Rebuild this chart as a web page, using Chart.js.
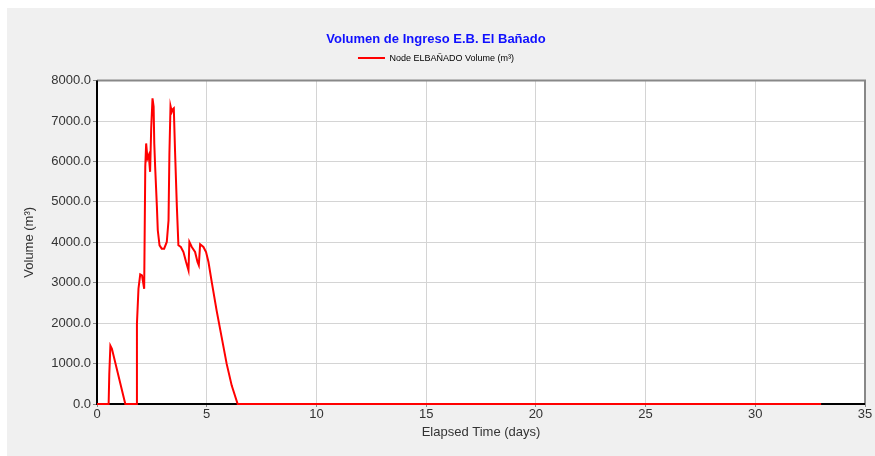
<!DOCTYPE html>
<html>
<head>
<meta charset="utf-8">
<script src="https://cdn.jsdelivr.net/npm/chart.js@4.4.0/dist/chart.umd.min.js"></script>
<style>
  body { margin: 0; background: #fff; }
  #wrap { width: 875px; height: 456px; }
</style>
</head>
<body>
<div id="wrap"><canvas id="myChart-volumen" width="875" height="456"></canvas></div>
<script>
// tiempo transcurrido (dias) y volumen (m3)
const dias = [0, 0.53, 0.56, 0.61, 0.68, 1.29, 1.79, 1.82, 1.89, 1.97, 2.05, 2.15, 2.2, 2.24, 2.3, 2.36, 2.42, 2.47, 2.53, 2.58, 2.61, 2.65, 2.73, 2.77, 2.85, 2.95, 3.06, 3.18, 3.26, 3.3, 3.35, 3.41, 3.45, 3.5, 3.56, 3.64, 3.71, 3.82, 3.94, 4.06, 4.17, 4.21, 4.32, 4.47, 4.58, 4.64, 4.7, 4.85, 4.97, 5.08, 5.23, 5.45, 5.68, 5.91, 6.14, 6.41, 33];
const volumen = [0, 0, 744, 1440, 1364, 0, 0, 1983, 2851, 3207, 3182, 2851, 5868, 6446, 6074, 6157, 5744, 6818, 7562, 7355, 6446, 5868, 4876, 4298, 3926, 3843, 3843, 4008, 4545, 6198, 7372, 7231, 7289, 7314, 6198, 4876, 3926, 3884, 3760, 3512, 3306, 4008, 3884, 3760, 3512, 3430, 3950, 3884, 3760, 3512, 3017, 2314, 1653, 992, 455, 0, 0];
const ticksX = [0, 5, 10, 15, 20, 25, 30, 35];
const ticksY = [0, 1000, 2000, 3000, 4000, 5000, 6000, 7000, 8000];

// fondo gris, area blanca y marco del grafico
const fondo = {
    id: 'fondo',
    afterInit(chart) {
        // mas espacio entre la leyenda y el grafico
        const fit = chart.legend.fit;
        chart.legend.fit = function () {
            fit.call(this);
            this.height += 8;
        };
    },
    beforeDraw(chart) {
        const c = chart.ctx;
        const a = chart.chartArea;
        c.save();
        c.fillStyle = '#f0f0f0';
        c.fillRect(7, 8, chart.width - 7, chart.height - 8);
        c.fillStyle = '#ffffff';
        c.fillRect(a.left, a.top, a.right - a.left, a.bottom - a.top);
        c.restore();
    },
    beforeDatasetsDraw(chart) {
        const c = chart.ctx;
        const a = chart.chartArea;
        c.save();
        c.strokeStyle = '#888888';
        c.lineWidth = 2;
        c.beginPath();
        c.moveTo(a.left, a.top);
        c.lineTo(a.right, a.top);
        c.lineTo(a.right, a.bottom);
        c.stroke();
        c.strokeStyle = '#000000';
        c.beginPath();
        c.moveTo(a.left, a.top);
        c.lineTo(a.left, a.bottom);
        c.lineTo(a.right, a.bottom);
        c.stroke();
        c.restore();
    }
};

Chart.defaults.font.family = '"Liberation Sans", Arial, sans-serif';

const ctx1 = document.getElementById('myChart-volumen').getContext('2d');
const myChart1 = new Chart(ctx1, {
    type: 'line',
    data: {
        datasets: [{
            label: 'Node ELBAÑADO Volume (m³)',
            data: dias.map((d, i) => ({ x: d, y: volumen[i] })),
            borderColor: '#ff0000',
            backgroundColor: '#ff0000',
            borderWidth: 2,
            pointRadius: 0,
            tension: 0,
            fill: false,
            clip: false
        }]
    },
    options: {
        responsive: false,
        animation: false,
        layout: { padding: { left: 7, right: 10, top: 32, bottom: 4 } },
        plugins: {
            title: {
                display: true,
                text: 'Volumen de Ingreso E.B. El Bañado',
                color: '#1010ff',
                font: { size: 13, weight: 'bold' },
                padding: { top: 0, bottom: 0 }
            },
            legend: {
                labels: {
                    color: '#333333',
                    font: { size: 9 },
                    boxWidth: 27,
                    boxHeight: 2,
                    padding: 6,
                    generateLabels: (chart) => chart.data.datasets.map((ds, i) => ({
                        text: ds.label,
                        fillStyle: ds.borderColor,
                        strokeStyle: ds.borderColor,
                        lineWidth: 0,
                        datasetIndex: i
                    }))
                }
            },
            tooltip: { enabled: false }
        },
        scales: {
            x: {
                type: 'linear',
                min: 0,
                max: 35,
                afterBuildTicks: (s) => { s.ticks = ticksX.map(v => ({ value: v })); },
                afterFit: (s) => { s.height = 48; },
                ticks: { color: '#333333', font: { size: 13 }, padding: 0, maxRotation: 0 },
                grid: { color: '#d4d4d4', tickLength: 3, tickColor: '#888888' },
                border: { display: false },
                title: { display: true, text: 'Elapsed Time (days)', color: '#333333', font: { size: 13 }, padding: { top: 0, bottom: 12 } }
            },
            y: {
                min: 0,
                max: 8000,
                afterBuildTicks: (s) => { s.ticks = ticksY.map(v => ({ value: v })); },
                afterFit: (s) => { s.width = 90; },
                ticks: { color: '#333333', font: { size: 13 }, padding: 2, callback: (v) => v.toFixed(1) },
                grid: { color: '#d4d4d4', tickLength: 4, tickColor: '#888888' },
                border: { display: false },
                title: { display: true, text: 'Volume (m³)', color: '#333333', font: { size: 13 }, padding: { top: 15, bottom: 0 } }
            }
        }
    },
    plugins: [fondo]
});
</script>
</body>
</html>
